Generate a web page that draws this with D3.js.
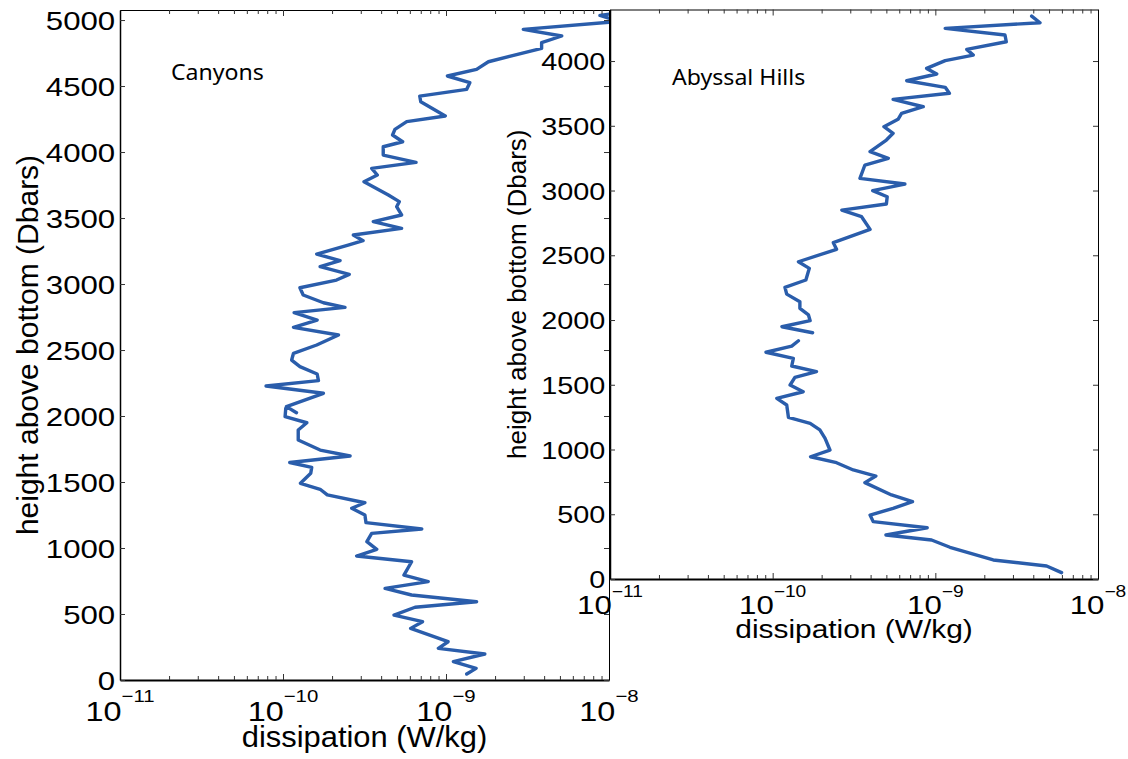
<!DOCTYPE html>
<html>
<head>
<meta charset="utf-8">
<script src="https://cdn.jsdelivr.net/npm/d3@7"></script>
<style>
  body { margin: 0; background: #fff; }
  svg { display: block; }
  text { font-family: "Liberation Sans", Arial, Helvetica, sans-serif; fill: #000; }
  .note { font-family: "Noto Sans", "Open Sans", sans-serif; }
</style>
</head>
<body>
<svg id="fig" width="1128" height="759"></svg>
<script>
// Dissipation profiles (W/kg) against height above bottom (dbar).
// null marks a break in the profile.
const canyonsHeight = [
  5070, 5035, 4990, 4929, 4879, 4828, 4785, 4684, 4626, 4576, 4525, 4475, 4424, 4381,
  4273, 4230, 4172, 4129, 4078, 4040, 3977, 3922, 3876, 3826, 3775, 3674, 3624, 3586,
  3523, 3472, 3422, 3371, 3328, 3295, 3227, 3177, 3131, 3073, 3030, 2972, 2917, 2858,
  2823, 2783, 2727, 2672, 2614, 2538, 2475, 2424, 2374, 2318, 2268, 2227, 2172, 2071,
  2025, null, 2060, 1995, 1949, 1894, 1818, 1742, 1697, 1648, 1611, 1566, 1490, 1445,
  1402, 1343, 1301, 1250, 1192, 1144, 1111, 1048, 990, 939, 896, 795, 745, 694, 644,
  593, 551, 492, 442, 391, 290, 240, 197, 139, 88, 45
];
const canyonsDissipation = [
  1.4e-8, 8.8e-9, 1.15e-8, 2.98e-9, 5.13e-9, 3.86e-9, 3.86e-9, 1.82e-9, 1.54e-9, 1.02e-9, 1.40e-9, 1.34e-9, 6.9e-10, 7.0e-10,
  9.9e-10, 5.74e-10, 4.86e-10, 4.7e-10, 5.42e-10, 4.12e-10, 4.12e-10, 6.55e-10, 3.5e-10, 3.79e-10, 3.14e-10, 4.43e-10, 5.17e-10, 4.98e-10,
  5.34e-10, 3.58e-10, 5.34e-10, 2.70e-10, 3.1e-10, 2.51e-10, 1.61e-10, 2.24e-10, 1.69e-10, 2.55e-10, 2.13e-10, 1.27e-10, 1.33e-10, 1.77e-10,
  2.4e-10, 1.17e-10, 1.62e-10, 1.16e-10, 2.19e-10, 1.61e-10, 1.16e-10, 1.13e-10, 1.27e-10, 1.62e-10, 1.65e-10, 7.87e-11, 1.77e-10, 1.05e-10,
  1.21e-10, null, 1.04e-10, 1.03e-10, 1.4e-10, 1.24e-10, 1.24e-10, 1.69e-10, 2.58e-10, 1.1e-10, 1.5e-10, 1.48e-10, 1.28e-10, 1.69e-10,
  1.87e-10, 3.18e-10, 2.64e-10, 3.18e-10, 3.23e-10, 7.1e-10, 3.5e-10, 3.27e-10, 3.76e-10, 2.83e-10, 6.15e-10, 5.52e-10, 7.78e-10, 4.23e-10, 6.15e-10,
  1.54e-9, 6.46e-10, 4.8e-10, 7.18e-10, 6.07e-10, 1.03e-9, 8.98e-10, 1.73e-9, 1.11e-9, 1.53e-9, 1.34e-9
];

const hillsHeight = [
  4347, 4296, 4252, 4201, 4149, 4090, 4046, 4003, 3943, 3900, 3848, 3797, 3751, 3704,
  3647, 3596, 3550, 3493, 3442, 3390, 3300, 3249, 3197, 3094, 3050, 2999, 2952, 2896,
  2849, 2798, 2700, 2597, 2546, 2450, 2399, 2309, 2252, 2200, 2141, 2090, 2039, 1995,
  1948, 1902, null, 1840, 1799, 1751, 1704, 1645, 1601, 1557, 1498, 1446, 1395, 1344,
  1249, 1202, 1151, 1086, 996, 944, 898, 842, 795, 744, 649, 597, 546, 494, 443, 396,
  340, 301, 245, 147, 100, 49
];
const hillsDissipation = [
  3.91e-9, 4.4e-9, 1.15e-9, 2.68e-9, 2.73e-9, 1.56e-9, 1.71e-9, 1.15e-9, 8.84e-10, 1.02e-9, 6.67e-10, 1.15e-9, 1.22e-9, 5.5e-10,
  8.43e-10, 6.2e-10, 5.9e-10, 4.83e-10, 5.5e-10, 5.0e-10, 3.97e-10, 5.14e-10, 3.69e-10, 3.44e-10, 6.5e-10, 4.12e-10, 5.06e-10, 5.0e-10,
  2.66e-10, 3.52e-10, 3.97e-10, 2.36e-10, 2.47e-10, 1.44e-10, 1.68e-10, 1.6e-10, 1.19e-10, 1.22e-10, 1.47e-10, 1.47e-10, 1.66e-10, 1.7e-10,
  1.14e-10, 1.76e-10, null, 1.44e-10, 1.31e-10, 9.1e-11, 1.34e-10, 1.31e-10, 1.86e-10, 1.37e-10, 1.28e-10, 1.54e-10, 1.06e-10, 1.22e-10,
  1.25e-10, 1.7e-10, 1.95e-10, 2.1e-10, 2.25e-10, 1.71e-10, 2.47e-10, 3.13e-10, 4.31e-10, 3.69e-10, 5.38e-10, 7.24e-10, 5.5e-10, 3.97e-10, 4.15e-10, 8.91e-10,
  4.97e-10, 9.48e-10, 1.23e-9, 2.27e-9, 4.83e-9, 5.97e-9
];

// Tick values
const xDecades = [1e-11, 1e-10, 1e-9, 1e-8];
const xExponents = ["\u221211", "\u221210", "\u22129", "\u22128"];
const xMinor = [2, 3, 4, 5, 6, 7, 8, 9].flatMap(m => [1e-11, 1e-10, 1e-9].map(d => m * d));
const canyonsTicks = [0, 500, 1000, 1500, 2000, 2500, 3000, 3500, 4000, 4500, 5000];
const hillsTicks = [0, 500, 1000, 1500, 2000, 2500, 3000, 3500, 4000];

const svg = d3.select("#fig");
const lineColor = "#2a5dab";

function panel(o) {
  const g = svg.append("g");
  const x = d3.scaleLog().domain([1e-11, 1e-8]).range([o.left, o.right]);
  const y = d3.scaleLinear().domain([0, o.yMax]).range([o.bottom, o.top]);

  // opaque plotting area
  g.append("rect")
    .attr("x", o.left).attr("y", o.top)
    .attr("width", o.right - o.left).attr("height", o.bottom - o.top)
    .attr("fill", "#fff");

  const clipId = "clip-" + o.id;
  g.append("clipPath").attr("id", clipId)
    .append("rect")
    .attr("x", o.left).attr("y", o.top)
    .attr("width", o.right - o.left).attr("height", o.bottom - o.top);

  const pts = o.heights.map((h, i) => ({ h: h, v: o.values[i] }));
  const line = d3.line()
    .defined(d => d.h !== null && d.v !== null)
    .x(d => x(d.v))
    .y(d => y(d.h));
  g.append("path")
    .attr("clip-path", `url(#${clipId})`)
    .attr("d", line(pts))
    .attr("fill", "none")
    .attr("stroke", lineColor)
    .attr("stroke-width", 3.4)
    .attr("stroke-linejoin", "round")
    .attr("stroke-linecap", "round");

  const styleAxis = (sel, domainWidth) => {
    sel.select(".domain").attr("stroke", "#000").attr("stroke-width", domainWidth);
    sel.selectAll(".tick line").attr("stroke", "#333").attr("stroke-width", 1);
  };

  // bottom axis: major + minor ticks pointing inward
  const bottom = g.append("g").attr("transform", `translate(0,${o.bottom})`)
    .call(d3.axisBottom(x).tickValues(xDecades).tickSizeInner(-6).tickSizeOuter(0).tickFormat(""));
  styleAxis(bottom, 2);
  const bottomMinor = g.append("g").attr("transform", `translate(0,${o.bottom})`)
    .call(d3.axisBottom(x).tickValues(xMinor).tickSizeInner(-4).tickSizeOuter(0).tickFormat(""));
  bottomMinor.select(".domain").remove();
  bottomMinor.selectAll(".tick line").attr("stroke", "#333");

  // top axis
  const topAx = g.append("g").attr("transform", `translate(0,${o.top})`)
    .call(d3.axisTop(x).tickValues(xDecades).tickSizeInner(-6).tickSizeOuter(0).tickFormat(""));
  styleAxis(topAx, 1);
  const topMinor = g.append("g").attr("transform", `translate(0,${o.top})`)
    .call(d3.axisTop(x).tickValues(xMinor).tickSizeInner(-4).tickSizeOuter(0).tickFormat(""));
  topMinor.select(".domain").remove();
  topMinor.selectAll(".tick line").attr("stroke", "#333");

  // left axis with labels (set slightly wide)
  const leftAx = g.append("g").attr("transform", `translate(${o.left},0)`)
    .call(d3.axisLeft(y).tickValues(o.yTicks).tickSizeInner(-5).tickSizeOuter(0).tickPadding(4).tickFormat(d3.format("d")));
  styleAxis(leftAx, 1.5);
  leftAx.selectAll(".tick text")
    .attr("font-family", null).attr("font-size", o.tickFont).attr("dy", "0.36em")
    .attr("transform", `scale(${o.wide},1)`);

  // right axis
  const rightAx = g.append("g").attr("transform", `translate(${o.right},0)`)
    .call(d3.axisRight(y).tickValues(o.yTicks).tickSizeInner(-5).tickSizeOuter(0).tickFormat(""));
  styleAxis(rightAx, 1);

  // decade labels 10^n
  const labels = g.append("g");
  xDecades.forEach((d, i) => {
    const t = labels.append("text")
      .attr("transform", `translate(${x(d)},${o.xTickBase}) scale(${o.wide},1)`)
      .attr("text-anchor", "middle")
      .attr("font-size", o.xTickFont);
    t.append("tspan").text("10");
    t.append("tspan").attr("dy", -o.expRise).attr("font-size", o.expFont).text(xExponents[i]);
  });

  // axis titles
  g.append("text")
    .attr("transform", `translate(${(o.left + o.right) / 2},${o.xLabelBase}) scale(${o.labelWide},1)`)
    .attr("text-anchor", "middle")
    .attr("font-size", o.labelFont)
    .text("dissipation (W/kg)");
  g.append("text")
    .attr("transform", `translate(${o.yLabelBase},${(o.top + o.bottom) / 2}) rotate(-90)`)
    .attr("text-anchor", "middle")
    .attr("font-size", o.labelFont)
    .text("height above bottom (Dbars)");

  g.append("text")
    .attr("class", "note")
    .attr("transform", `translate(${o.noteX},${o.noteY}) scale(1.1,1)`)
    .attr("font-size", o.noteFont)
    .text(o.note);
}

panel({
  id: "canyons", left: 120, right: 609, top: 10, bottom: 680, yMax: 5076,
  heights: canyonsHeight, values: canyonsDissipation, yTicks: canyonsTicks,
  tickFont: 26, xTickFont: 27, expFont: 17, expRise: 19, xTickBase: 721, wide: 1.2,
  labelFont: 30, labelWide: 1.03, xLabelBase: 747, yLabelBase: 38,
  note: "Canyons", noteX: 171, noteY: 80, noteFont: 21
});

panel({
  id: "hills", left: 610, right: 1098, top: 9.5, bottom: 579, yMax: 4398,
  heights: hillsHeight, values: hillsDissipation, yTicks: hillsTicks,
  tickFont: 24, xTickFont: 26, expFont: 16, expRise: 17, xTickBase: 614, wide: 1.2,
  labelFont: 26, labelWide: 1.15, xLabelBase: 638, yLabelBase: 526,
  note: "Abyssal Hills", noteX: 672, noteY: 85, noteFont: 21
});
</script>
</body>
</html>
